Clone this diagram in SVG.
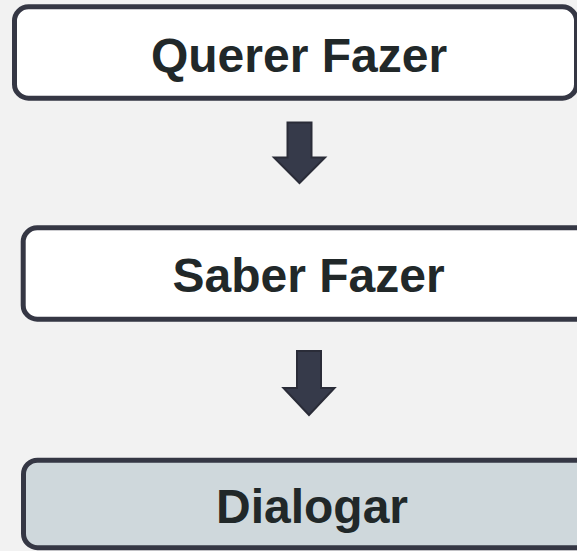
<svg xmlns="http://www.w3.org/2000/svg" width="577" height="551" viewBox="0 0 577 551">
<style>
.box{stroke:#353744;stroke-width:5}
.lbl{font-family:"Liberation Sans",Arial,sans-serif;font-weight:bold;font-size:48px;fill:#212829;text-anchor:middle}
.arr{fill:#363a4a;stroke:#2a2c38;stroke-width:2;stroke-linejoin:miter}
</style>
<rect width="577" height="551" fill="#f2f2f2"/>
<g id="node-querer">
<rect class="box" x="14.5" y="6.8" width="562" height="91.4" rx="14" fill="#ffffff"/>
<text class="lbl" x="299" y="71.5">Querer Fazer</text>
</g>
<g id="node-saber">
<rect class="box" x="23.2" y="227.8" width="571" height="91.4" rx="14" fill="#ffffff"/>
<text class="lbl" x="308.5" y="291.5">Saber Fazer</text>
</g>
<g id="node-dialogar">
<rect class="box" x="23.5" y="460.2" width="577" height="87.5" rx="14" fill="#cfd8dc"/>
<text class="lbl" x="312" y="523">Dialogar</text>
</g>
<g id="connectors">
<polygon class="arr" points="287.5,122.5 311.5,122.5 311.5,157.5 325,157.5 299.5,183 274,157.5 287.5,157.5"/>
<polygon class="arr" points="297,351 321,351 321,388 334.5,388 309,415 283.5,388 297,388"/>
</g>
</svg>
